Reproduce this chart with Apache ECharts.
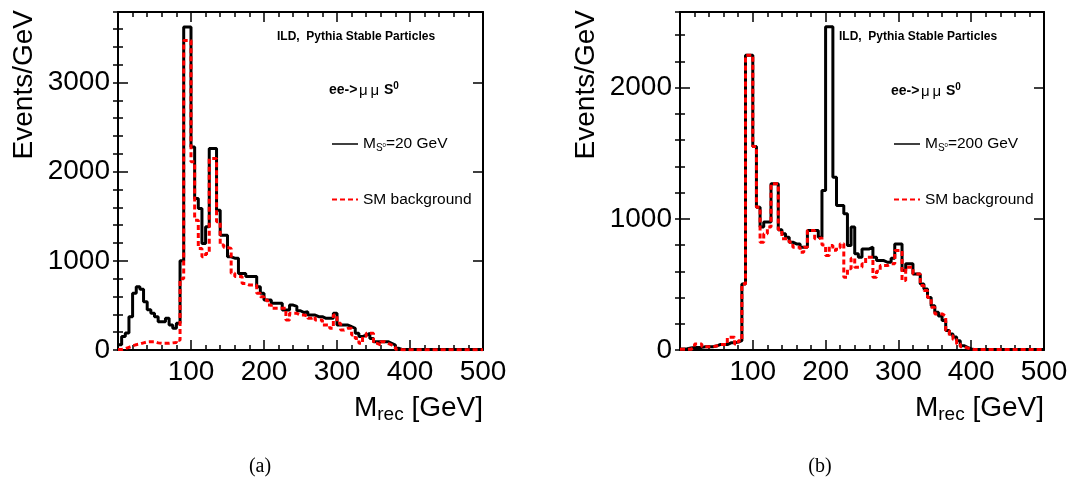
<!DOCTYPE html>
<html><head><meta charset="utf-8">
<script src="https://cdn.jsdelivr.net/npm/echarts@6/dist/echarts.min.js"></script>
<style>html,body{margin:0;padding:0;background:#fff}#c{width:1073px;height:477px}</style>
</head><body><div id="c"></div>
<script>
// ---- data ----
const BIN_WIDTH = 5;           // GeV per bin, bins start at 0 GeV
const X_MIN = 0, X_MAX = 500;
const xTickLabels = ['100', '200', '300', '400', '500'];
const leftYMax = 3790, rightYMax = 2577;
const leftSignalName = 'M_S0=20 GeV';
const rightSignalName = 'M_S0=200 GeV';
const bgName = 'SM background';
const infoText = 'ILD,  Pythia Stable Particles';
const captions = ['(a)', '(b)'];

const leftSignal = [60,150,190,373,635,709,680,540,450,411,
  373,317,317,355,280,243,300,1000,3621,3621,
  2277,1699,1587,1195,1381,2259,2259,1568,1288,1288,
  1045,1030,1030,859,859,823,823,823,709,635,
  560,560,523,523,523,448,448,504,490,440,
  420,430,392,392,373,373,355,355,355,411,
  280,280,280,261,243,187,150,168,187,130,
  93,93,93,93,75,56,19,5,5,5,
  5,5,5,5,5,5,5,5,5,5,
  5,5,5,5,5,5,5,5,5,5];
const leftBackground = [5,15,30,45,60,67,80,90,93,93,
  80,75,75,75,80,85,110,800,3470,3470,
  2110,1456,1139,1045,1083,2146,2146,1437,1176,1150,
  1139,860,823,823,747,728,728,728,635,597,
  560,504,467,467,467,467,336,411,411,392,
  392,380,355,373,336,336,280,280,243,392,
  300,224,243,243,168,130,75,150,187,187,
  75,56,93,75,56,37,8,3,3,3,
  3,3,3,3,3,3,3,3,3,3,
  3,3,3,3,3,3,3,3,3,3];
const rightSignal = [8,10,15,20,20,20,25,25,25,30,
  41,41,41,55,55,60,71,504,2247,2247,
  1552,1089,937,975,975,1267,1267,916,886,860,
  822,809,809,784,784,911,911,911,860,1217,
  2464,2464,1318,1102,1102,1038,797,937,733,708,
  771,771,784,708,682,682,669,669,700,809,
  809,606,657,657,580,580,504,466,400,338,
  287,260,224,148,122,100,71,33,20,8,
  3,3,3,3,3,3,3,3,3,3,
  3,3,3,3,3,3,3,3,3,3];
const rightBackground = [5,5,5,20,46,46,25,25,25,30,
  41,41,41,97,97,46,71,504,2247,2247,
  1552,1089,822,886,937,1267,1267,916,848,848,
  822,784,784,746,784,911,911,848,855,800,
  720,797,760,780,810,555,620,700,631,631,
  657,708,708,555,600,644,644,657,657,758,
  758,529,631,631,580,580,491,453,400,326,
  275,275,260,148,109,80,46,25,15,8,
  3,3,3,3,3,3,3,3,3,3,
  3,3,3,3,3,3,3,3,3,3];

// ---- helpers ----
function steps(vals) {
  const pts = vals.map((v, i) => [X_MIN + i * BIN_WIDTH, v]);
  pts.push([X_MIN + vals.length * BIN_WIDTH, vals[vals.length - 1]]);
  return pts;
}
const FONT = 'Liberation Sans';
const BLACK = '#000000', RED = '#ff0000';

function xAxes(g) {
  const base = {
    gridIndex: g, type: 'value', min: X_MIN, max: X_MAX, interval: 100,
    axisLine: { show: true, onZero: false, lineStyle: { color: BLACK, width: 2 } },
    axisTick: { show: true, inside: true, length: 10, lineStyle: { color: BLACK, width: 1.5 } },
    minorTick: { show: true, splitNumber: 5, length: 5, lineStyle: { color: BLACK, width: 1.5 } },
    splitLine: { show: false }, minorSplitLine: { show: false }
  };
  return [
    Object.assign({}, base, {
      position: 'bottom',
      axisLabel: { show: true, showMinLabel: false, fontSize: 28, fontFamily: FONT, color: BLACK, margin: 8,
        formatter: v => xTickLabels.includes(String(v)) ? String(v) : '' },
      name: '{m|M}{s|rec}{m| [GeV]}', nameLocation: 'end', nameGap: 0, nameMoveOverlap: false,
      nameTextStyle: { align: 'right', verticalAlign: 'top', padding: [43, 0, 0, 0],
        rich: { m: { fontSize: 28, fontFamily: FONT, color: BLACK },
                 s: { fontSize: 19, fontFamily: FONT, color: BLACK, padding: [12, 0, 0, 0] } } }
    }),
    Object.assign({}, base, { position: 'top', axisLabel: { show: false } })
  ];
}
function yAxes(g, ymax) {
  const common = { gridIndex: g, type: 'value', min: 0, max: ymax, splitLine: { show: false } };
  return [
    Object.assign({}, common, {
      position: 'left', interval: 1000,
      axisLine: { show: true, onZero: false, lineStyle: { color: BLACK, width: 2 } },
      axisTick: { show: true, inside: true, length: 10, lineStyle: { color: BLACK, width: 1.5 } },
      axisLabel: { show: true, showMaxLabel: false, fontSize: 28, fontFamily: FONT, color: BLACK, margin: 8,
        formatter: v => String(v) },
      name: 'Events/GeV', nameLocation: 'end', nameRotate: 90, nameGap: 2, nameMoveOverlap: false,
      nameTextStyle: { fontSize: 28, fontFamily: FONT, color: BLACK, align: 'right', verticalAlign: 'bottom', padding: [0, 0, 80, 0] }
    }),
    Object.assign({}, common, {
      position: 'left', interval: 200,
      axisLine: { show: false },
      axisTick: { show: true, inside: true, length: 5, lineStyle: { color: BLACK, width: 1.5 } },
      axisLabel: { show: false }
    }),
    Object.assign({}, common, {
      position: 'right', interval: 1000,
      axisLine: { show: true, onZero: false, lineStyle: { color: BLACK, width: 2 } },
      axisTick: { show: true, inside: true, length: 10, lineStyle: { color: BLACK, width: 1.5 } },
      axisLabel: { show: false }
    }),
    Object.assign({}, common, {
      position: 'right', interval: 200,
      axisLine: { show: false },
      axisTick: { show: true, inside: true, length: 5, lineStyle: { color: BLACK, width: 1.5 } },
      axisLabel: { show: false }
    })
  ];
}
function histSeries(name, vals, xi, yi, color, dashed) {
  return {
    name: name, type: 'line', step: 'end', xAxisIndex: xi, yAxisIndex: yi,
    data: steps(vals), symbol: 'none', showSymbol: false, silent: true,
    lineStyle: { color: color, width: 3, type: dashed ? [5, 3] : 'solid' },
    itemStyle: { color: color }, z: dashed ? 3 : 2
  };
}
const legendRich = {
  n: { fontSize: 15.5, fontFamily: FONT, color: BLACK },
  sub: { fontSize: 10, fontFamily: FONT, color: BLACK, padding: [9, 0, 0, 0] },
  ss: { fontSize: 6, fontFamily: FONT, color: BLACK, padding: [3, 0, 0, 0] }
};
function legendFmt(name) {
  if (name === bgName) return '{n|' + name + '}';
  const m = name.match(/^M_S0(=.*)$/);
  return '{n|M}{sub|S}{ss|0}{n|' + m[1] + '}';
}
function legend(left, sigName) {
  return {
    orient: 'vertical', left: left, top: 136, padding: 0, itemGap: 38, itemWidth: 26, itemHeight: 16,
    selectedMode: false, formatter: legendFmt, textStyle: { rich: legendRich, color: BLACK },
    data: [
      { name: sigName, lineStyle: { width: 1.5 }, itemStyle: { opacity: 0 } },
      { name: bgName, itemStyle: { opacity: 0 } }
    ]
  };
}
const headRich = {
  b: { fontSize: 14, fontWeight: 'bold', fontFamily: FONT, color: BLACK },
  g: { fontSize: 15, fontFamily: FONT, color: BLACK, padding: [0, 1.5, 0, 1.5] },
  sup: { fontSize: 10, fontWeight: 'bold', fontFamily: FONT, color: BLACK, padding: [0, 0, 9, 0] }
};
function annotations(x0, yHead) {
  return [
    { type: 'text', left: x0 - 52, top: 31, style: { text: infoText, font: 'bold 12px "Liberation Sans"', fill: BLACK } },
    { type: 'text', left: x0, top: yHead, style: { text: '{b|ee->}{g|μ}{g|μ} {b|S}{sup|0}', rich: headRich } }
  ];
}

const chart = echarts.init(document.getElementById('c'), null, { renderer: 'canvas' });
chart.setOption({
  animation: false,
  backgroundColor: '#ffffff',
  grid: [
    { left: 118, top: 12, width: 365, height: 338, containLabel: false, outerBoundsMode: 'none' },
    { left: 680, top: 12, width: 364, height: 338, containLabel: false, outerBoundsMode: 'none' }
  ],
  title: [
    { text: captions[0], left: 255, top: 452, textAlign: 'center', textStyle: { fontSize: 20, fontWeight: 'normal', fontFamily: 'Liberation Serif', color: BLACK } },
    { text: captions[1], left: 815, top: 452, textAlign: 'center', textStyle: { fontSize: 20, fontWeight: 'normal', fontFamily: 'Liberation Serif', color: BLACK } }
  ],
  legend: [legend(331, leftSignalName), legend(893, rightSignalName)],
  xAxis: [].concat(xAxes(0), xAxes(1)),
  yAxis: [].concat(yAxes(0, leftYMax), yAxes(1, rightYMax)),
  series: [
    histSeries(leftSignalName, leftSignal, 0, 0, BLACK, false),
    histSeries(bgName, leftBackground, 0, 0, RED, true),
    histSeries(rightSignalName, rightSignal, 2, 4, BLACK, false),
    histSeries(bgName, rightBackground, 2, 4, RED, true)
  ],
  graphic: [].concat(annotations(329, 81), annotations(891, 82))
});
</script>
</body></html>
